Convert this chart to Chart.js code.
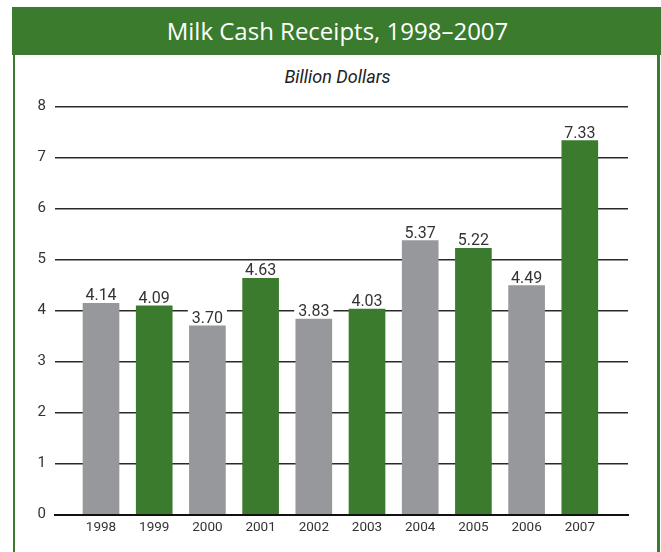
<!DOCTYPE html>
<html>
<head>
<meta charset="utf-8">
<script src="https://cdn.jsdelivr.net/npm/chart.js@4"></script>
<style>
  html, body { margin: 0; padding: 0; background: #fff; }
  #wrap { position: relative; width: 661px; height: 552px; overflow: hidden; }
  #header { position: absolute; left: 12px; top: 7px; width: 649px; height: 48px; background: #3a7b2d;
    color: #fff; font-family: "Open Sans", sans-serif; font-size: 24px; font-weight: 500;
    display: flex; align-items: center; justify-content: center; padding-left: 2px; padding-bottom: 1px; box-sizing: border-box; }
  #lborder { position: absolute; left: 13px; top: 55px; width: 2px; height: 497px; background: #3a7b2d; }
  #rborder { position: absolute; left: 657px; top: 55px; width: 3px; height: 497px; background: #3a7b2d; }
  #unit { position: absolute; left: 0; width: 661px; top: 66px; text-align: center;
    font-family: Roboto, sans-serif; font-style: italic; font-size: 18px; color: #222; padding-left: 14px; box-sizing: border-box; }
  #c { position: absolute; left: 0; top: 0; }
</style>
</head>
<body>
<div id="wrap">
  <div id="header">Milk Cash Receipts, 1998–2007</div>
  <div id="lborder"></div>
  <div id="rborder"></div>
  <div id="unit">Billion Dollars</div>
  <canvas id="c" width="661" height="552"></canvas>
</div>
<script>
const categories = ["1998","1999","2000","2001","2002","2003","2004","2005","2006","2007"];
const values = [4.14, 4.09, 3.70, 4.63, 3.83, 4.03, 5.37, 5.22, 4.49, 7.33];
const yTicks = [0,1,2,3,4,5,6,7,8];

const GREY = '#97989c';
const GREEN = '#3a7b2d';
const NARROW = 'Roboto, sans-serif';

const valueLabels = {
  id: 'valueLabels',
  afterDatasetsDraw(chart) {
    const ctx = chart.ctx;
    const meta = chart.getDatasetMeta(0);
    ctx.save();
    ctx.font = '16px ' + NARROW;
    ctx.textAlign = 'center';
    ctx.textBaseline = 'alphabetic';
    meta.data.forEach((bar, i) => {
      const txt = values[i].toFixed(2);
      const w = ctx.measureText(txt).width;
      const base = bar.y - 3;
      ctx.fillStyle = '#fff';
      ctx.fillRect(bar.x - w / 2 - 4, base - 14, w + 8, 15);
      ctx.fillStyle = '#333';
      ctx.fillText(txt, bar.x, base);
    });
    ctx.restore();
  }
};

function draw() {
  new Chart(document.getElementById('c'), {
    type: 'bar',
    data: {
      datasets: [{
        data: values.map((v, i) => ({ x: i, y: v })),
        backgroundColor: (c) => (c.dataIndex % 2 === 0 ? GREY : GREEN),
        borderWidth: 0,
        barThickness: 36
      }]
    },
    options: {
      responsive: false,
      animation: false,
      devicePixelRatio: 1,
      layout: { padding: { left: 0, right: 33, top: 106.5, bottom: 0 } },
      plugins: { legend: { display: false }, tooltip: { enabled: false }, title: { display: false } },
      scales: {
        x: {
          type: 'linear',
          offset: false,
          min: -0.865,
          max: 9.906,
          afterBuildTicks(scale) { scale.ticks = categories.map((c, i) => ({ value: i })); },
          afterFit(scale) { scale.height = 37.5; },
          grid: { display: false, drawTicks: false, offset: false },
          border: { display: true, color: '#111', width: 2 },
          ticks: {
            autoSkip: false, maxRotation: 0, padding: 5,
            color: '#333', font: { family: NARROW, size: 13.5 },
            callback: (v) => categories[v]
          }
        },
        y: {
          min: 0,
          max: 8,
          afterBuildTicks(scale) { scale.ticks = yTicks.map(v => ({ value: v })); },
          afterFit(scale) { scale.width = 55; },
          grid: { color: '#2a2a2a', lineWidth: 1.5, drawTicks: false },
          border: { display: false },
          ticks: { padding: 9, color: '#333', font: { family: NARROW, size: 15 } }
        }
      }
    },
    plugins: [valueLabels]
  });
}

Promise.all([
  document.fonts.load('15px Roboto'),
  document.fonts.load('italic 18px Roboto'),
  document.fonts.load('500 24px "Open Sans"')
]).then(draw, draw);
</script>
</body>
</html>
